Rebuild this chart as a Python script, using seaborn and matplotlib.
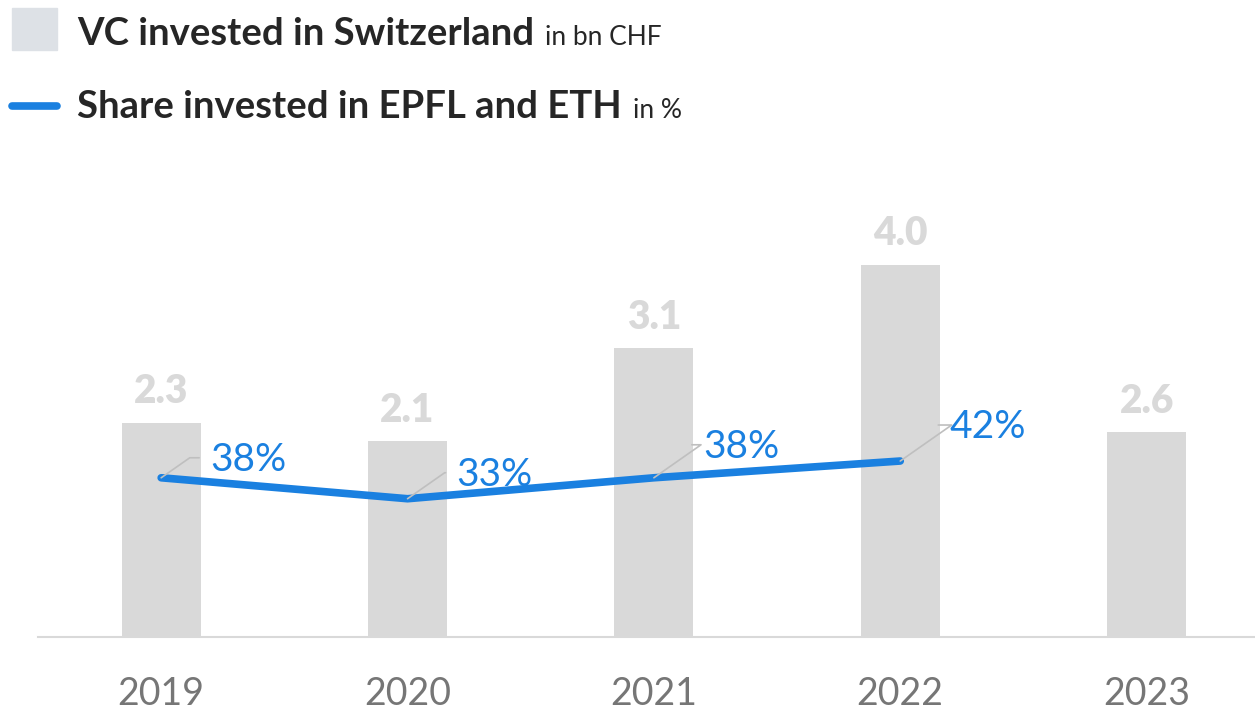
import matplotlib
matplotlib.use("Agg")
import matplotlib.pyplot as plt
import matplotlib.patches as mpatches
import matplotlib.lines as mlines
import numpy as np
import pandas as pd
import seaborn as sns

# data (the 2023 bar is drawn lower than its "2.6" label)
years = ["2019", "2020", "2021", "2022", "2023"]
vc_bn_chf = [2.3, 2.1, 3.1, 4.0, 2.2]
vc_labels = ["2.3", "2.1", "3.1", "4.0", "2.6"]
share_years = ["2019", "2020", "2021", "2022"]
share_epfl_eth = [0.38, 0.33, 0.38, 0.42]

# label offsets (px) for the percentage call-outs
label_dy = [20, 26, 33, 36]

BAR = "#d9d9d9"
BLUE = "#1a80e0"
DARK = "#262626"

sns.set_theme(style="white")
plt.rcParams["font.family"] = ["Lato", "DejaVu Sans"]

fig = plt.figure(figsize=(12.55, 7.11), dpi=100)
ax = fig.add_axes([38 / 1255, 74 / 711, 1 - 38 / 1255, 419 / 711])

df = pd.DataFrame({"year": years, "vc": vc_bn_chf})
sns.barplot(data=df, x="year", y="vc", color=BAR, saturation=1, width=0.32, ax=ax)
for p in ax.patches:
    p.set_edgecolor("none")
ax.bar_label(ax.containers[0], labels=vc_labels,
             padding=9, color=BAR, fontsize=28, fontweight="heavy")
ax.set_ylim(0, 4.5)
ax.set_xlim(-0.5, 4.44)
ax.set_xlabel("")
ax.set_ylabel("")
ax.set_yticks([])
sns.despine(ax=ax, left=True)
ax.spines["bottom"].set_color(BAR)
ax.spines["bottom"].set_linewidth(1.5)
ax.tick_params(axis="x", length=0, pad=28, labelsize=27, labelcolor="#767676")

ax2 = ax.twinx()
pos = [years.index(y) for y in share_years]
sns.lineplot(x=pos, y=share_epfl_eth, color=BLUE, linewidth=5.5, ax=ax2,
             solid_capstyle="round", solid_joinstyle="round")
ax2.set_ylim(0, 1.0)
ax2.set_yticks([])
ax2.set_ylabel("")
for s in ax2.spines.values():
    s.set_visible(False)

px = 72 / 100  # pixels -> points
for x, v, dy in zip(pos, share_epfl_eth, label_dy):
    ax2.annotate("", xy=(x, v), xytext=(38 * px, dy * px), textcoords="offset points",
                 arrowprops=dict(arrowstyle="-", color="#bfbfbf", lw=1.2, shrinkA=0, shrinkB=0,
                                 connectionstyle="angle,angleA=0,angleB=35,rad=0"))
    ax2.annotate(f"{v:.0%}", xy=(x, v), xytext=(49 * px, (dy - 2) * px),
                 textcoords="offset points", ha="left", va="center",
                 color=BLUE, fontsize=28)

# legend at the top
fig.patches.append(mpatches.Rectangle((12 / 1255, 1 - 50 / 711), 45 / 1255, 42 / 711,
                                      transform=fig.transFigure, color="#dde1e6"))
fig.lines.append(mlines.Line2D([12 / 1255, 57 / 1255], [1 - 106 / 711] * 2,
                               transform=fig.transFigure, color=BLUE, lw=5.5))

fig.canvas.draw()
renderer = fig.canvas.get_renderer()
for ytop, bold, light in [(45, "VC invested in Switzerland", "in bn CHF"),
                          (118, "Share invested in EPFL and ETH", "in %")]:
    t = fig.text(77 / 1255, 1 - ytop / 711, bold, fontsize=27.5, fontweight="bold",
                 color=DARK, va="baseline", ha="left")
    bb = t.get_window_extent(renderer).transformed(fig.transFigure.inverted())
    fig.text(bb.x1 + 11 / 1255, 1 - ytop / 711, light, fontsize=19, color=DARK,
             va="baseline", ha="left")

fig.savefig("out.png", dpi=100)
